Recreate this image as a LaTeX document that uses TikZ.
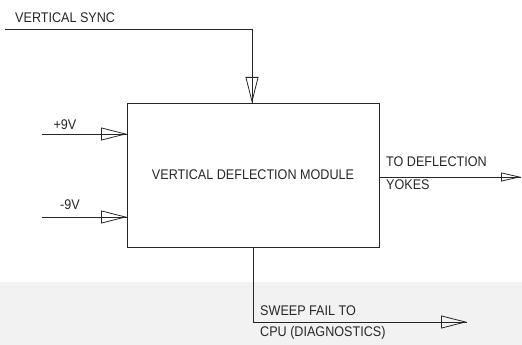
\documentclass[tikz,border=0pt]{standalone}
\usepackage{fontspec}
\setmainfont{Liberation Sans}[FakeStretch=0.9]
\usetikzlibrary{arrows.meta}
\begin{document}
\begin{tikzpicture}[x=1pt,y=-1pt,
  wire/.style={draw=black!85,line width=0.8pt},
  bigtip/.style={wire,-{Triangle[open,length=26pt,width=13pt,line width=0.8pt]}},
  smalltip/.style={wire,-{Triangle[open,length=20pt,width=9pt,line width=0.8pt]}},
  lbl/.style={font=\fontsize{14}{16}\selectfont,text=black!85,inner sep=0pt},
  modbox/.style={draw=black!85,line width=0.8pt,minimum width=252pt,minimum height=144pt,inner sep=0pt,font=\fontsize{14}{16}\selectfont,text=black!85}]
\useasboundingbox (0,0) rectangle (522,345);
\fill[gray!10] (0,282) rectangle (522,345);
\node[modbox] (mod) at (253,175) {VERTICAL DEFLECTION MODULE};
% vertical sync
\coordinate (vs0) at (5,29);
\coordinate (vs1) at (252,29);
\coordinate (vsin) at (252,103);
\draw[wire] (vs0) -- (vs1) -- (vsin);
\draw[bigtip] (vs1) -- (vsin);
\node[lbl,anchor=west] (tvs) at (15,18) {VERTICAL SYNC};
% +9V
\coordinate (p9) at (42,134);
\coordinate (p9in) at (127,134);
\draw[wire] (p9) -- (p9in);
\draw[bigtip] (p9) -- (p9in);
\node[lbl] (tp9) at (65,125) {+9V};
% -9V
\coordinate (m9) at (42,217);
\coordinate (m9in) at (127,217);
\draw[wire] (m9) -- (m9in);
\draw[bigtip] (m9) -- (m9in);
\node[lbl] (tm9) at (70,205) {-9V};
% output to yokes
\coordinate (yo0) at (379,177);
\coordinate (yo1) at (521,177);
\draw[wire] (yo0) -- (yo1);
\draw[smalltip] (yo0) -- (yo1);
\node[lbl,anchor=west] (tto) at (386,162) {TO DEFLECTION};
\node[lbl,anchor=west] (tyo) at (386,185) {YOKES};
% sweep fail
\coordinate (sf0) at (253,247);
\coordinate (sf1) at (253,322);
\coordinate (sf2) at (467,322);
\draw[wire] (sf0) -- (sf1) -- (sf2);
\draw[bigtip] (sf1) -- (sf2);
\node[lbl,anchor=west] (tsf) at (260,311) {SWEEP FAIL TO};
\node[lbl,anchor=west] (tcpu) at (260,333) {CPU (DIAGNOSTICS)};
\end{tikzpicture}
\end{document}
